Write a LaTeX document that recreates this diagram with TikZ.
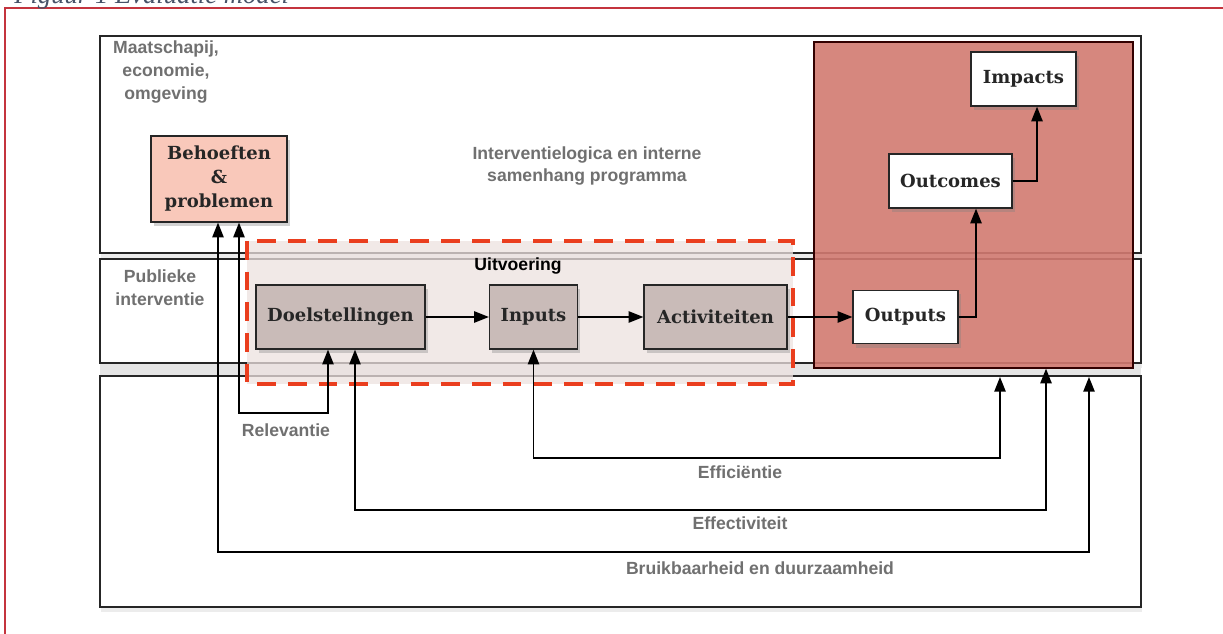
\documentclass[tikz,border=0pt]{standalone}
\usepackage{fontspec}
\setmainfont{DejaVu Serif}
\setsansfont{Liberation Sans}
\newfontfamily\capfont{Liberation Serif}
\usepackage{tikz}
\usetikzlibrary{shapes,arrows.meta,positioning,calc,shadows}

\definecolor{kader}{RGB}{196,52,62}
\definecolor{titel}{RGB}{70,82,104}
\definecolor{grijs}{RGB}{112,112,112}
\definecolor{mauve}{RGB}{201,187,184}
\definecolor{zalm}{RGB}{249,200,186}
\definecolor{roze}{RGB}{237,226,224}
\definecolor{resultaat}{RGB}{210,122,113}
\definecolor{streep}{RGB}{234,62,30}

\begin{document}
\begin{tikzpicture}[x=0.75pt,y=-0.75pt,
    band/.style={draw=black!85,line width=0.9pt,fill=white,drop shadow={opacity=0.15,shadow xshift=1pt,shadow yshift=-4pt}},
    blok/.style={draw=black!85,line width=1pt,inner sep=0pt,align=center,text=black!85,
        font=\bfseries\fontsize{13.5}{18}\selectfont,drop shadow={opacity=0.35,shadow xshift=2pt,shadow yshift=-3pt}},
    stap/.style={blok,fill=mauve,minimum height=48pt},
    uit/.style={blok,fill=white},
    lbl/.style={inner sep=0pt,align=center,text=grijs,font=\sffamily\bfseries\fontsize{13.2}{17}\selectfont},
    verb/.style={line width=1.1pt,-{Triangle[length=11pt,width=8.5pt]}},
    beide/.style={line width=1.1pt,{Triangle[length=11pt,width=8.5pt]}-{Triangle[length=11pt,width=8.5pt]}}]
    \useasboundingbox (0,0) rectangle (1223,634);

    \draw[kader,line width=1.5pt] (5,634) -- (5,8) -- (1223,8);
    \node[anchor=base west,inner sep=0pt,text=titel,font=\capfont\itshape\fontsize{20}{24}\selectfont] (titel) at (14,4) {Figuur 1 Evaluatie model};

    \filldraw[band] (100,36) rectangle (1141,253);
    \filldraw[band] (100,259) rectangle (1141,363);
    \filldraw[band] (100,376) rectangle (1141,607);
    \fill[black!10] (100,363.5) rectangle (1141,375.5);
    \draw[black!85,line width=0.9pt] (100,363) -- (1141,363) (100,376) -- (1141,376);

    \filldraw[fill=roze,fill opacity=.75,draw=streep,line width=2.6pt,dash pattern=on 14pt off 9pt] (247,241) rectangle (793,384);

    \node[draw=black!80!red,line width=1pt,fill=resultaat,fill opacity=.9,minimum width=239.25pt,minimum height=244.5pt] (res) at (973.5,205) {};

    \foreach \nm/\cx/\w/\txt in {doel/340.5/126.75/Doelstellingen,inp/533.5/66/Inputs,act/715.5/107.25/Activiteiten}
    {
        \node[stap,minimum width=\w pt] (\nm) at (\cx,317) {\txt};
    }
    \node[uit,minimum width=78.75pt,minimum height=39.75pt] (outp) at (905.5,317) {Outputs};
    \node[uit,minimum width=92.25pt,minimum height=40.5pt] (outc) at (950.5,181) {Outcomes};
    \node[uit,minimum width=78.75pt,minimum height=40.5pt] (imp) at (1023.5,79) {Impacts};
    \node[blok,fill=zalm,minimum width=102pt,minimum height=64.5pt] (beh) at (219,179) {Behoeften\\\&\\problemen};

    \draw[verb] (doel) -- (inp);
    \draw[verb] (inp) -- (act);
    \draw[verb] (act) -- (outp);
    \draw[verb] (outp.east) -| ($(outc.south)+(25.5,0)$);
    \draw[verb] (outc.east) -| ($(imp.south)+(13.5,0)$);

    \coordinate (relhoek) at (283.5,413);
    \coordinate (effihoek) at (740,458);
    \coordinate (effieind) at (1000,377);
    \coordinate (effehoek) at (740,510);
    \coordinate (bruihoek) at (760,552);
    \coordinate (bruieind) at (1089,377);
    \draw[beide] ($(beh.south)+(20,0)$) |- (relhoek) -| ($(doel.south)+(-12.5,0)$);
    \draw[beide] (inp.south) |- (effihoek) -| (effieind);
    \draw[beide] ($(doel.south)+(14.5,0)$) |- (effehoek) -| ($(res.south)+(72.5,0)$);
    \draw[beide] ($(beh.south)+(-1,0)$) |- (bruihoek) -| (bruieind);

    \node[lbl] (maat) at (166,72) {Maatschapij,\\economie,\\omgeving};
    \node[lbl] (logica) at (587,166) {Interventielogica en interne\\samenhang programma};
    \node[lbl] (publ) at (160,288) {Publieke\\interventie};
    \node[lbl,text=black] (uitv) at (518,266) {Uitvoering};
    \node[lbl] (rel) at (286,430) {Relevantie};
    \node[lbl] (effi) at (740,472) {Efficiëntie};
    \node[lbl] (effe) at (740,523) {Effectiviteit};
    \node[lbl] (brui) at (760,568) {Bruikbaarheid en duurzaamheid};
\end{tikzpicture}
\end{document}
